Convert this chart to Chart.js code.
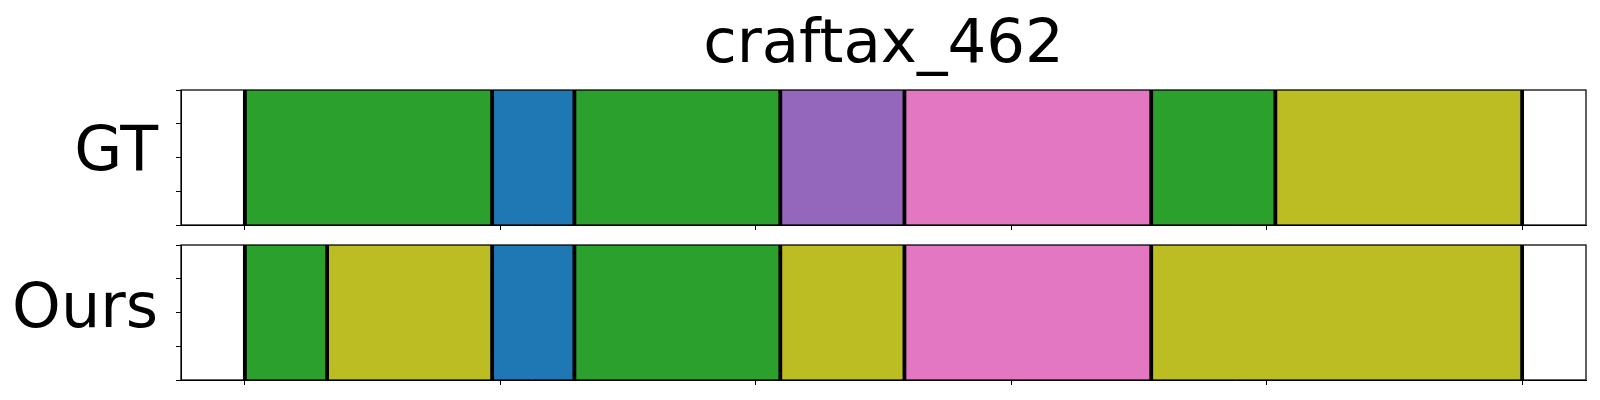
<!DOCTYPE html>
<html>
<head>
<meta charset="utf-8">
<title>craftax_462</title>
<script src="https://cdn.jsdelivr.net/npm/chart.js@4.4.0/dist/chart.umd.min.js"></script>
<style>
  html, body { margin: 0; padding: 0; background: #fff; }
  #wrap { position: relative; width: 1600px; height: 400px; overflow: hidden; }
  #title {
    position: absolute; left: 181px; width: 1405px; top: 11px;
    font-family: "DejaVu Sans", sans-serif; font-size: 61px; line-height: 60px;
    text-align: center; color: #000;
  }
  canvas { position: absolute; left: 0; }
  #gt-chart { top: 80px; }
  #ours-chart { top: 235px; }
</style>
</head>
<body>
<div id="wrap">
  <div id="title">craftax_462</div>
  <canvas id="gt-chart" width="1600" height="155"></canvas>
  <canvas id="ours-chart" width="1600" height="155"></canvas>
</div>
<script>
"use strict";

// ── Data ────────────────────────────────────────────────────────────────────
const X_TICKS = [0, 50, 100, 150, 200, 250];
const X_MIN = -12.5;
const X_MAX = 262.5;
const Y_TICKS = [0, 0.25, 0.5, 0.75, 1];

// segment boundaries (frames) and class id of each segment
const GT_BOUNDS = [0, 48.4, 64.5, 104.8, 129.1, 177.4, 201.7, 250];
const GT_CLASSES = [2, 0, 2, 4, 6, 2, 8];

const OURS_BOUNDS = [0, 16.1, 48.4, 64.5, 104.8, 129.1, 177.4, 250];
const OURS_CLASSES = [2, 8, 0, 2, 8, 6, 8];

const TAB10 = [
  "#1f77b4", "#ff7f0e", "#2ca02c", "#d62728", "#9467bd",
  "#8c564b", "#e377c2", "#7f7f7f", "#bcbd22", "#17becf",
];

// ── Plugin: black segment edges + axes frame ────────────────────────────────
const segmentEdges = {
  id: "segmentEdges",
  afterDatasetsDraw(chart, args, opts) {
    const { ctx, chartArea: a, scales: { x } } = chart;
    ctx.save();
    ctx.strokeStyle = "#000";
    ctx.lineWidth = 3.8;
    (opts.bounds || []).forEach(b => {
      const px = x.getPixelForValue(b);
      ctx.beginPath();
      ctx.moveTo(px, a.top);
      ctx.lineTo(px, a.bottom);
      ctx.stroke();
    });
    ctx.lineWidth = 1.25;
    ctx.strokeRect(a.left, a.top, a.right - a.left, a.bottom - a.top);
    ctx.restore();
  },
};

// ── Panel factory ───────────────────────────────────────────────────────────
function makePanel(canvasId, name, bounds, classes, labelOffset) {
  const datasets = classes.map((c, i) => ({
    data: [[bounds[i], bounds[i + 1]]],
    backgroundColor: TAB10[c],
    borderWidth: 0,
    grouped: false,
    barPercentage: 1,
    categoryPercentage: 1,
    xAxisID: "x",
    yAxisID: "y",
  }));

  return new Chart(document.getElementById(canvasId), {
    type: "bar",
    data: { labels: [""], datasets },
    options: {
      indexAxis: "y",
      responsive: false,
      animation: false,
      devicePixelRatio: 1,
      layout: { padding: { top: 10, right: 14, left: 0, bottom: 0 } },
      scales: {
        x: {
          type: "linear",
          position: "bottom",
          min: X_MIN,
          max: X_MAX,
          afterBuildTicks: s => { s.ticks = X_TICKS.map(v => ({ value: v })); },
          afterFit: s => { s.height = 10; s.paddingLeft = 0; s.paddingRight = 0; },
          ticks: { display: false },
          grid: { drawOnChartArea: false, drawTicks: true, tickLength: 5, color: "#000", lineWidth: 1 },
          border: { display: true, color: "#000", width: 1 },
        },
        y: {
          type: "category",
          display: false,
        },
        // tick-only axis for the 0..1 marks and the row name
        yt: {
          type: "linear",
          position: "left",
          min: 0,
          max: 1,
          offset: false,
          afterBuildTicks: s => { s.ticks = Y_TICKS.map(v => ({ value: v })); },
          afterFit: s => { s.width = 181; s.paddingTop = 0; s.paddingBottom = 0; },
          ticks: {
            autoSkip: false,
            padding: 18,
            labelOffset: labelOffset,
            color: "#000",
            font: { family: "DejaVu Sans", size: 62 },
            callback: v => (v === 0.5 ? name : ""),
          },
          grid: { offset: false, drawOnChartArea: false, drawTicks: true, tickLength: 5, color: "#000", lineWidth: 1 },
          border: { display: true, color: "#000", width: 1 },
        },
      },
      plugins: {
        legend: { display: false },
        tooltip: { enabled: false },
        segmentEdges: { bounds },
      },
    },
    plugins: [segmentEdges],
  });
}

// ── Build ───────────────────────────────────────────────────────────────────
makePanel("gt-chart", "GT", GT_BOUNDS, GT_CLASSES, -4);
makePanel("ours-chart", "Ours", OURS_BOUNDS, OURS_CLASSES, -2);
</script>
</body>
</html>
